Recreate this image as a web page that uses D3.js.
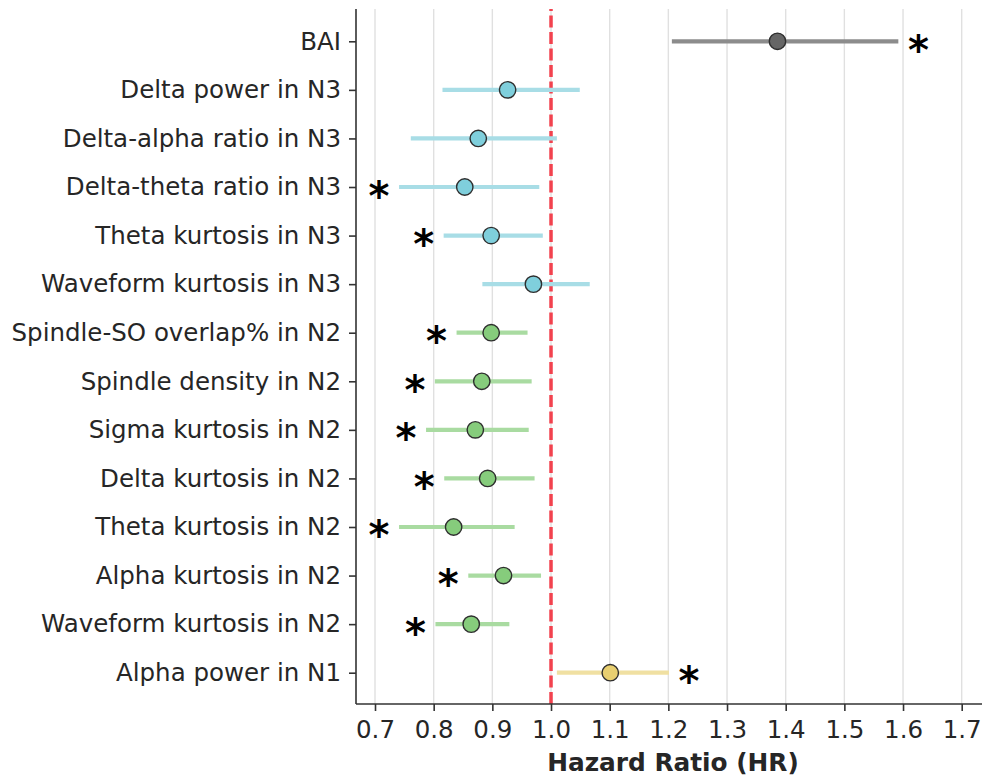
<!DOCTYPE html>
<html>
<head>
<meta charset="utf-8">
<script src="https://cdn.jsdelivr.net/npm/d3@7"></script>
<style>
  html, body { margin: 0; padding: 0; background: #fff; }
  svg { display: block; font-family: "DejaVu Sans", sans-serif; }
</style>
</head>
<body>
<svg id="chart" width="982" height="776"></svg>
<script>
// ---- data ----
const labels = [
  "BAI",
  "Delta power in N3",
  "Delta-alpha ratio in N3",
  "Delta-theta ratio in N3",
  "Theta kurtosis in N3",
  "Waveform kurtosis in N3",
  "Spindle-SO overlap% in N2",
  "Spindle density in N2",
  "Sigma kurtosis in N2",
  "Delta kurtosis in N2",
  "Theta kurtosis in N2",
  "Alpha kurtosis in N2",
  "Waveform kurtosis in N2",
  "Alpha power in N1"
];
const hr     = [1.386, 0.926, 0.876, 0.853, 0.898, 0.970, 0.898, 0.882, 0.871, 0.892, 0.834, 0.919, 0.864, 1.101];
const ciLow  = [1.206, 0.815, 0.761, 0.741, 0.817, 0.883, 0.839, 0.802, 0.787, 0.818, 0.741, 0.859, 0.803, 1.010];
const ciHigh = [1.592, 1.049, 1.010, 0.980, 0.986, 1.066, 0.960, 0.967, 0.962, 0.972, 0.938, 0.983, 0.929, 1.201];
const significant = [true, false, false, true, true, false, true, true, true, true, true, true, true, true];
const group  = ["clinical", "N3", "N3", "N3", "N3", "N3", "N2", "N2", "N2", "N2", "N2", "N2", "N2", "N1"];
const xTicks = [0.7, 0.8, 0.9, 1.0, 1.1, 1.2, 1.3, 1.4, 1.5, 1.6, 1.7];
const refValue = 1.0;
const xTitle = "Hazard Ratio (HR)";

// ---- styles ----
const lineColor = { clinical: "#8c8c8c", N3: "#a8dde6", N2: "#a9dba1", N1: "#f0e0a2" };
const dotColor  = { clinical: "#666666", N3: "#7fcfdc", N2: "#86cc7c", N1: "#e8cf70" };
const textColor = "#262626";

const svg = d3.select("#chart");
const plotLeft = 356, plotRight = 982, plotTop = 9, plotBottom = 704;

const x = d3.scaleLinear().domain([0.6676, 1.7346]).range([plotLeft, plotRight]);
const y = d3.scalePoint().domain(labels).range([41.3, 672.7]);

// grid
svg.append("g").selectAll("line").data(xTicks).join("line")
  .attr("x1", d => x(d)).attr("x2", d => x(d))
  .attr("y1", plotTop).attr("y2", plotBottom)
  .attr("stroke", "#e0e0e0").attr("stroke-width", 1.4);

// reference line (dash phase from bottom)
svg.append("line")
  .attr("x1", x(refValue)).attr("x2", x(refValue))
  .attr("y1", plotBottom).attr("y2", plotTop)
  .attr("stroke", "#f2424e").attr("stroke-width", 3.5)
  .attr("stroke-dasharray", "12,4.5");

const rows = labels.map((l, i) => ({ label: l, hr: hr[i], lo: ciLow[i], hi: ciHigh[i], sig: significant[i], g: group[i] }));

// CI lines
svg.append("g").selectAll("line").data(rows).join("line")
  .attr("x1", d => x(d.lo)).attr("x2", d => x(d.hi))
  .attr("y1", d => y(d.label)).attr("y2", d => y(d.label))
  .attr("stroke", d => lineColor[d.g]).attr("stroke-width", 4.2);

// points
svg.append("g").selectAll("circle").data(rows).join("circle")
  .attr("cx", d => x(d.hr)).attr("cy", d => y(d.label))
  .attr("r", 8.2)
  .attr("fill", d => dotColor[d.g])
  .attr("stroke", "#2e2e2e").attr("stroke-width", 1.4);

// significance stars
const starSize = 40;
svg.append("g").selectAll("text").data(rows.filter(d => d.sig)).join("text")
  .attr("x", d => d.hr > refValue ? x(d.hi) + 20 : x(d.lo) - 20)
  .attr("y", d => y(d.label) + starSize * 0.45 + 4.5)
  .attr("text-anchor", "middle")
  .attr("font-size", starSize).attr("font-weight", "bold")
  .attr("fill", "#000")
  .text("*");

// axes
const xAxis = svg.append("g").attr("transform", `translate(0,${plotBottom})`)
  .call(d3.axisBottom(x).tickValues(xTicks).tickFormat(d3.format(".1f")).tickSize(7).tickPadding(10));
xAxis.select(".domain").attr("d", `M${plotLeft},0H${plotRight}`);
const yAxis = svg.append("g").attr("transform", `translate(${plotLeft},0)`)
  .call(d3.axisLeft(y).tickSize(7).tickPadding(8));
yAxis.select(".domain").attr("d", `M0,${plotTop}V${plotBottom}`);

svg.selectAll(".domain").attr("stroke", "#333").attr("stroke-width", 1.6);
svg.selectAll(".tick line").attr("stroke", "#333").attr("stroke-width", 1.6);
svg.selectAll(".tick text").attr("font-size", 24.5).attr("fill", textColor)
  .attr("font-family", "DejaVu Sans");

// axis title
svg.append("text")
  .attr("x", 673).attr("y", 771)
  .attr("text-anchor", "middle")
  .attr("font-size", 24.8).attr("font-weight", "bold").attr("fill", textColor)
  .text(xTitle);
</script>
</body>
</html>
